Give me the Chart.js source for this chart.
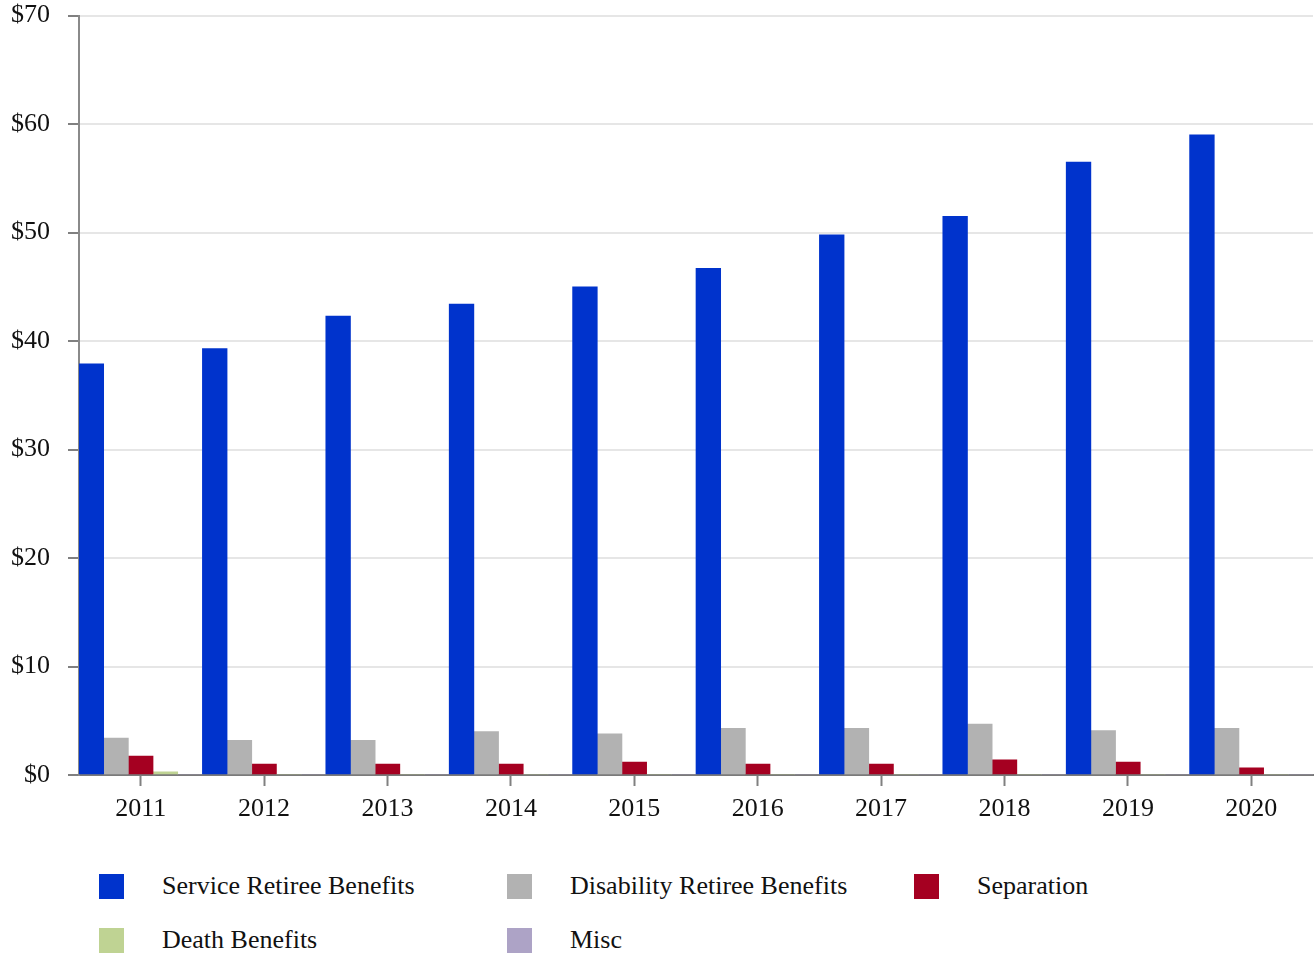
<!DOCTYPE html>
<html>
<head>
<meta charset="utf-8">
<script src="https://cdn.jsdelivr.net/npm/chart.js@4/dist/chart.umd.min.js"></script>
<style>
    body { margin: 0; background: #fff; font-family: "Liberation Serif", "Times New Roman", serif; overflow: hidden; }
    #wrap { position: absolute; left: 0; top: -18px; width: 1315px; height: 848px; }
    #legend { position: absolute; left: 99px; top: 871px; width: 1200px; }
    .item { position: absolute; display: flex; align-items: center; font-size: 26px; color: #111; white-space: nowrap; }
    .box { width: 25px; height: 25px; margin-right: 38px; }
</style>
</head>
<body>
<div id="wrap"><canvas id="myChart"></canvas></div>
<div id="legend"></div>
<script>
// Chart values (billions of dollars)
const years = ['2011', '2012', '2013', '2014', '2015', '2016', '2017', '2018', '2019', '2020'];
const serviceRetiree = [37.9, 39.3, 42.3, 43.4, 45.0, 46.7, 49.8, 51.5, 56.5, 59.0];
const disabilityRetiree = [3.4, 3.2, 3.2, 4.0, 3.8, 4.3, 4.3, 4.7, 4.1, 4.3];
const separation = [1.75, 1.0, 1.0, 1.0, 1.2, 1.0, 1.0, 1.4, 1.2, 0.65];
const deathBenefits = [0.3, 0, 0, 0, 0, 0, 0, 0, 0, 0];
const misc = [0, 0, 0, 0, 0, 0, 0, 0, 0, 0];

const seriesNames = ['Service Retiree Benefits', 'Disability Retiree Benefits', 'Separation', 'Death Benefits', 'Misc'];
const seriesColors = ['#0033CC', '#B2B2B2', '#A50021', '#BFD393', '#ADA3C6'];
const seriesData = [serviceRetiree, disabilityRetiree, separation, deathBenefits, misc];

const font = { family: '"Liberation Serif", "Times New Roman", serif', size: 26 };

function drawChart() {
    const ctx = document.getElementById('myChart').getContext('2d');

    const datasets = seriesNames.map((name, i) => ({
        label: name,
        data: seriesData[i],
        backgroundColor: seriesColors[i],
        borderWidth: 0,
        categoryPercentage: 1.0,
        barPercentage: 1.0
    }));

    new Chart(ctx, {
        type: 'bar',
        data: { labels: years, datasets: datasets },
        options: {
            responsive: true,
            maintainAspectRatio: false,
            animation: false,
            layout: { padding: { top: 0, right: 2, left: 0, bottom: 0 } },
            plugins: {
                legend: { display: false },
                tooltip: { enabled: false }
            },
            scales: {
                x: {
                    offset: true,
                    grid: { offset: false, drawOnChartArea: false, tickLength: 11, tickColor: '#808080', tickWidth: 2 },
                    border: { color: '#7a7a7a', width: 2 },
                    ticks: { color: '#111', font: font, padding: 8, maxRotation: 0 },
                    afterFit: scale => { scale.height = 55; }
                },
                y: {
                    min: 0,
                    max: 70,
                    grid: { color: '#e6e6e6', lineWidth: 2, tickLength: 11, tickColor: '#808080', tickWidth: 2 },
                    border: { color: '#8a8a8a', width: 2 },
                    ticks: { stepSize: 10, color: '#111', font: font, padding: 18, callback: v => '$' + v },
                    afterFit: scale => { scale.width = 79; }
                }
            }
        }
    });

    // Legend laid out in columns like the reference
    const legend = document.getElementById('legend');
    const colX = [0, 408, 815];
    const rowY = [0, 54];
    seriesNames.forEach((name, i) => {
        const item = document.createElement('div');
        item.className = 'item';
        item.style.left = colX[i % 3] + 'px';
        item.style.top = rowY[Math.floor(i / 3)] + 'px';
        item.innerHTML = `<span class="box" style="background:${seriesColors[i]}"></span><span>${name}</span>`;
        legend.appendChild(item);
    });
}

document.addEventListener('DOMContentLoaded', drawChart);
</script>
</body>
</html>
